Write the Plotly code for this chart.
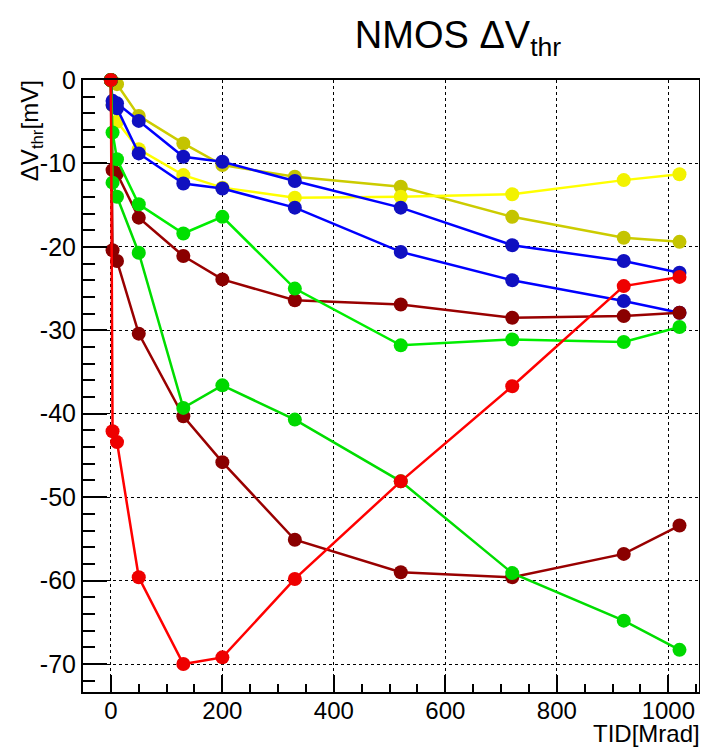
import plotly.graph_objects as go

# ---- data ----
tid = [0, 3, 11, 50, 130, 200, 330, 520, 720, 920, 1020]

olive   = [0, -0.2, -0.5, -4.3, -7.6, -10.2, -11.6, -12.8, -16.4, -18.9, -19.4]
yellow  = [0, -3.0, -5.0, -8.3, -11.4, -12.9, -14.1, -14.0, -13.7, -12.0, -11.3]
blue_a  = [0, -2.5, -2.8, -4.9, -9.2, -9.8, -12.1, -15.3, -19.8, -21.7, -23.1]
blue_b  = [0, -3.0, -3.4, -8.8, -12.4, -13.0, -15.3, -20.6, -24.0, -26.5, -27.9]
green_a = [0, -6.3, -9.5, -14.9, -18.4, -16.4, -25.0, -31.8, -31.1, -31.4, -29.6]
green_b = [0, -12.3, -14.0, -20.7, -39.3, -36.6, -40.7, -48.1, -59.1, -64.8, -68.3]
dred_a  = [0, -10.8, -11.2, -16.5, -21.1, -23.9, -26.4, -26.9, -28.5, -28.3, -27.9]
dred_b  = [0, -20.4, -21.7, -30.4, -40.3, -45.8, -55.1, -59.0, -59.6, -56.8, -53.4]
red     = [0, -42.1, -43.4, -59.6, -70.0, -69.2, -59.8, -48.1, -36.7, -24.7, -23.6]

x_tickvals = [0, 200, 400, 600, 800, 1000]
x_ticktext = ["0", "200", "400", "600", "800", "1000"]
y_tickvals = [0, -10, -20, -30, -40, -50, -60, -70]
y_ticktext = ["0", "-10", "-20", "-30", "-40", "-50", "-60", "-70"]

series = [
    (olive,   "#cccc00", "#c4c400"),
    (yellow,  "#ffff00", "#f2f200"),
    (blue_a,  "#0000ff", "#1010c0"),
    (blue_b,  "#0000ff", "#1010c0"),
    (dred_a,  "#990000", "#8a0000"),
    (dred_b,  "#990000", "#8a0000"),
    (green_a, "#00ee00", "#00e000"),
    (green_b, "#00dd00", "#00d800"),
    (red,     "#ff0000", "#ee0000"),
]

FONT = "Liberation Sans, Arial, Helvetica, sans-serif"

# page body has an 8px margin; figure is sized/margined to compensate
W, H = 700, 740
L, R, T, B = 75, 7, 72, 56
PW, PH = W - L - R, H - T - B

fig = go.Figure()
for ys, lc, mc in series:
    fig.add_trace(go.Scatter(
        x=tid, y=ys, mode="lines+markers",
        line=dict(color=lc, width=2.5),
        marker=dict(color=mc, size=14, line=dict(width=0)),
        cliponaxis=False, showlegend=False,
    ))

fig.update_layout(
    width=W, height=H,
    margin=dict(l=L, r=R, t=T, b=B),
    paper_bgcolor="white", plot_bgcolor="white",
    font=dict(family=FONT, color="black", size=24),
    title=dict(text="NMOS ΔV<sub>thr</sub>", x=(458 - 8) / W, y=1 - (35 - 8) / H,
               xanchor="center", yanchor="middle",
               font=dict(family=FONT, size=38, color="black")),
)

fig.update_xaxes(
    range=[-50, 1055], tickmode="array", tickvals=x_tickvals, ticktext=x_ticktext,
    showline=True, linecolor="black", linewidth=2, mirror=True,
    ticks="inside", ticklen=17, tickwidth=1.5, tickcolor="black",
    showgrid=True, gridcolor="black", griddash="dot", gridwidth=1,
    zeroline=False, tickfont=dict(size=24, family=FONT, color="black"),
    ticklabelstandoff=-4,
    minor=dict(tick0=0, dtick=50, ticks="inside", ticklen=8, tickwidth=1.5,
               tickcolor="black", showgrid=False),
)
fig.update_yaxes(
    range=[-73.35, 0], tickmode="array", tickvals=y_tickvals, ticktext=y_ticktext,
    showline=True, linecolor="black", linewidth=2, mirror=True,
    ticks="inside", ticklen=24, tickwidth=1.5, tickcolor="black",
    showgrid=True, gridcolor="black", griddash="dot", gridwidth=1,
    zeroline=False, tickfont=dict(size=25, family=FONT, color="black"),
    minor=dict(tick0=0, dtick=2, ticks="inside", ticklen=12, tickwidth=1.5,
               tickcolor="black", showgrid=False),
)

fig.add_annotation(
    text="ΔV<sub>thr</sub>[mV]", textangle=-90, showarrow=False,
    xref="paper", yref="paper", x=(31 - 83) / PW, y=(692 - 131) / PH,
    xanchor="center", yanchor="middle",
    font=dict(family=FONT, size=24, color="black"),
)
fig.add_annotation(
    text="TID[Mrad]", showarrow=False,
    xref="paper", yref="paper", x=(704 - 83) / PW, y=(692 - 733) / PH,
    xanchor="right", yanchor="middle",
    font=dict(family=FONT, size=24, color="black"),
)

fig.write_html("out.html")
